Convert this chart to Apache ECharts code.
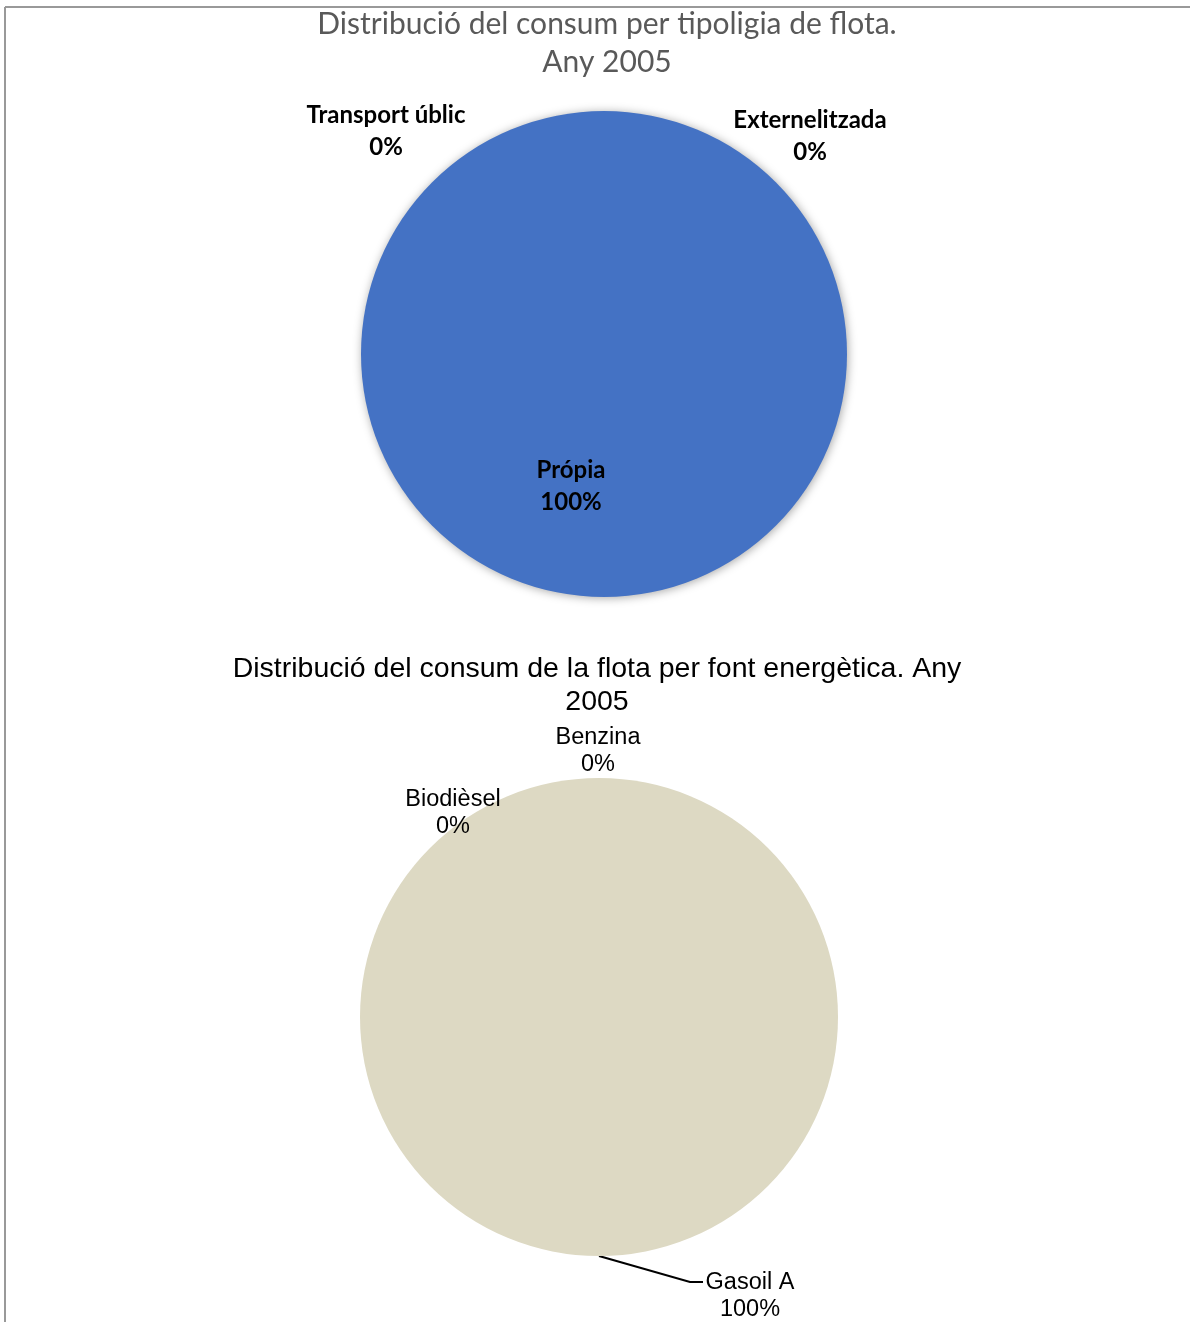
<!DOCTYPE html>
<html><head><meta charset="utf-8">
<script src="https://cdn.jsdelivr.net/npm/echarts@6/dist/echarts.min.js"></script>
<style>html,body{margin:0;padding:0;background:#fff}#c{width:1190px;height:1322px}</style>
</head><body><div id="c"></div>
<script>
const fleetCategories = ['Transport úblic', 'Externelitzada', 'Própia'];
const fleetValues = [0, 0, 100];
const fuelCategories = ['Biodièsel', 'Benzina', 'Gasoil A'];
const fuelValues = [0, 0, 100];
const title1 = 'Distribució del consum per tipoligia de flota.\nAny 2005';
const title2 = 'Distribució del consum de la flota per font energètica. Any\n2005';

function pct(vals, i) {
  const s = vals.reduce((a, b) => a + b, 0);
  return Math.round(vals[i] / s * 100) + '%';
}

const chart = echarts.init(document.getElementById('c'));
const topFont = 'Lato, "Open Sans", sans-serif';
const botFont = '"Liberation Sans", Arial, sans-serif';

// label anchor positions (layout only)
const fleetLabelPos = [[386, 131], [810, 136], [571, 486]];
const fuelLabelPos = [[453, 813], [598, 751], [750, 1296]];

const graphics = [
  { type: 'line', shape: { x1: 5, y1: 7, x2: 1190, y2: 7 }, style: { stroke: '#999', lineWidth: 2 } },
  { type: 'line', shape: { x1: 5, y1: 7, x2: 5, y2: 1322 }, style: { stroke: '#999', lineWidth: 2 } },
  { type: 'text', x: 607, y: 43, style: { text: title1, font: '30px ' + topFont, fill: '#595959', align: 'center', verticalAlign: 'middle', lineHeight: 38 } },
  { type: 'text', x: 597, y: 686, style: { text: title2, font: '28.5px ' + botFont, fill: '#000', align: 'center', verticalAlign: 'middle', lineHeight: 33 } },
  { type: 'polyline', shape: { points: [[599, 1256], [690, 1282], [703, 1282]] }, style: { stroke: '#000', lineWidth: 2, fill: null } }
];
fleetCategories.forEach((c, i) => {
  graphics.push({ type: 'text', x: fleetLabelPos[i][0], y: fleetLabelPos[i][1], z: 10,
    style: { text: c + '\n' + pct(fleetValues, i), font: 'bold 24px ' + topFont, fill: '#000', align: 'center', verticalAlign: 'middle', lineHeight: 32 } });
});
fuelCategories.forEach((c, i) => {
  graphics.push({ type: 'text', x: fuelLabelPos[i][0], y: fuelLabelPos[i][1], z: 10,
    style: { text: c + '\n' + pct(fuelValues, i), font: '23.5px ' + botFont, fill: '#000', align: 'center', verticalAlign: 'middle', lineHeight: 27 } });
});

chart.setOption({
  animation: false,
  graphic: graphics,
  series: [
    {
      type: 'pie', center: [604, 354], radius: 243, startAngle: 90, clockwise: true,
      label: { show: false }, labelLine: { show: false }, silent: true,
      itemStyle: { borderWidth: 0, shadowBlur: 10, shadowColor: 'rgba(0,0,0,0.35)', shadowOffsetX: 1, shadowOffsetY: 1 },
      data: fleetCategories.map((c, i) => ({ name: c, value: fleetValues[i], itemStyle: { color: ['#A5A5A5', '#ED7D31', '#4472C4'][i] } }))
    },
    {
      type: 'pie', center: [599, 1017], radius: 239, startAngle: 90, clockwise: true,
      label: { show: false }, labelLine: { show: false }, silent: true,
      itemStyle: { borderWidth: 0 },
      data: fuelCategories.map((c, i) => ({ name: c, value: fuelValues[i], itemStyle: { color: ['#9BBB59', '#C0504D', '#DDD9C3'][i] } }))
    }
  ]
});
</script></body></html>
